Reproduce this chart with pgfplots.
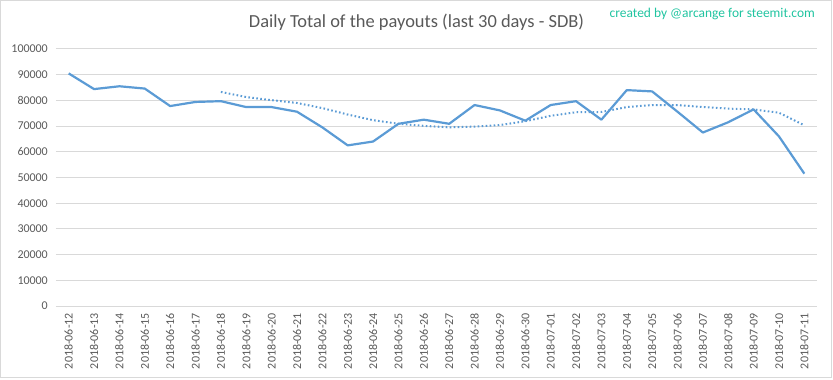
\documentclass[border=0pt]{standalone}
\usepackage{pgfplots}
\pgfplotsset{compat=1.18}
\usepackage{fontspec}
\setmainfont{Carlito}
\definecolor{txt}{RGB}{89,89,89}
\definecolor{grd}{RGB}{217,217,217}
\definecolor{ln}{RGB}{91,155,213}
\definecolor{grn}{RGB}{32,196,160}
\begin{document}
\begin{tikzpicture}[x=1bp,y=1bp]
% picture frame: pixel (px,py) -> (px-56, 306-py)
\useasboundingbox (-56,-73) rectangle (777,306);
\draw[grd, line width=1bp] (-55,-71.5) rectangle (775,305);
\begin{axis}[
  at={(0,0)}, anchor=south west,
  scale only axis, width=761bp, height=257bp,
  xmin=-0.5, xmax=29.5, ymin=0, ymax=100000,
  xtick={0,...,29},
  xticklabels={2018-06-12,2018-06-13,2018-06-14,2018-06-15,2018-06-16,2018-06-17,2018-06-18,2018-06-19,2018-06-20,2018-06-21,2018-06-22,2018-06-23,2018-06-24,2018-06-25,2018-06-26,2018-06-27,2018-06-28,2018-06-29,2018-06-30,2018-07-01,2018-07-02,2018-07-03,2018-07-04,2018-07-05,2018-07-06,2018-07-07,2018-07-08,2018-07-09,2018-07-10,2018-07-11},
  ytick={0,10000,...,100000},
  scaled y ticks=false,
  /pgf/number format/assume math mode=true,
  yticklabel={\pgfmathprintnumber[fixed,precision=0,1000 sep={}]{\tick}},
  axis line style={draw=none},
  major tick length=0pt,
  ymajorgrids, grid style={grd, line width=1bp},
  tick label style={font=\fontsize{12}{14}\selectfont, text=txt, inner sep=0pt},
  xticklabel style={rotate=90, anchor=east},
  xticklabel shift=7bp,
  yticklabel shift=8bp,
  clip=false,
]
\addplot[ln, line width=2.2bp, line join=round] coordinates {
(0,90500) (1,84400) (2,85500) (3,84600) (4,77800) (5,79400) (6,79700) (7,77400) (8,77400) (9,75600)
(10,69500) (11,62500) (12,64000) (13,70900) (14,72500) (15,70900) (16,78200) (17,76100) (18,72100) (19,78200)
(20,79700) (21,72500) (22,84000) (23,83500) (24,75600) (25,67500) (26,71500) (27,76500) (28,66000) (29,51500)
};
\addplot[ln, line width=2bp, dash pattern=on 1.6bp off 2.4bp] coordinates {
(6,83300) (7,81300) (8,80100) (9,79000) (10,77000) (11,74500) (12,72300) (13,70900) (14,70100) (15,69500)
(16,69800) (17,70400) (18,71900) (19,74000) (20,75400) (21,75500) (22,77400) (23,78200) (24,78200) (25,77400)
(26,76800) (27,76500) (28,75200) (29,70300)
};
\end{axis}
\node[text=txt, font=\fontsize{18.5}{22}\selectfont] at (360.5,284) {Daily Total of the payouts (last 30 days - SDB)};
\node[text=grn, font=\fontsize{13.5}{16}\selectfont, anchor=east, inner sep=0pt] at (759,292) {created by @arcange for steemit.com};
\end{tikzpicture}
\end{document}
